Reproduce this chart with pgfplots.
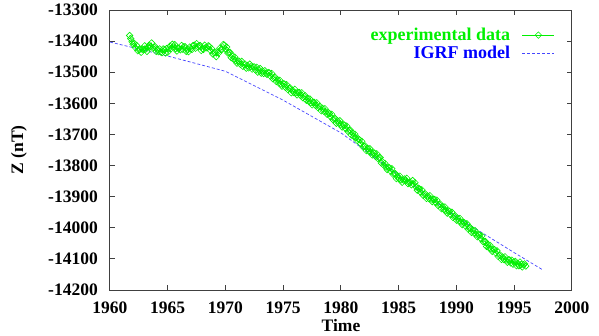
\documentclass[border=0pt]{standalone}
\usepackage{pgfplots}
\pgfplotsset{compat=1.18}
\usepackage{pgfplotstable}
\usepackage{fontspec}
\setmainfont{Liberation Serif}

\definecolor{gpgreen}{RGB}{0,240,0}
\definecolor{gpblue}{RGB}{0,0,255}
\definecolor{igrfblue}{RGB}{70,70,255}

\pgfplotstableread{
t Z
1961.7 -13382
1961.8 -13392
1961.9 -13402
1962.0 -13410
1962.1 -13407
1962.2 -13421
1962.3 -13414
1962.4 -13431
1962.5 -13428
1962.6 -13426
1962.7 -13436
1962.8 -13425
1962.9 -13428
1963.0 -13415
1963.1 -13426
1963.2 -13433
1963.3 -13419
1963.4 -13413
1963.5 -13418
1963.6 -13406
1963.7 -13422
1963.8 -13420
1963.9 -13418
1964.0 -13433
1964.1 -13426
1964.2 -13434
1964.3 -13425
1964.4 -13435
1964.5 -13437
1964.6 -13425
1964.7 -13427
1964.8 -13438
1964.9 -13424
1965.0 -13436
1965.1 -13425
1965.2 -13416
1965.3 -13424
1965.4 -13410
1965.5 -13419
1965.6 -13411
1965.7 -13424
1965.8 -13432
1965.9 -13423
1966.0 -13423
1966.1 -13428
1966.2 -13414
1966.3 -13426
1966.4 -13418
1966.5 -13418
1966.6 -13433
1966.7 -13426
1966.8 -13434
1966.9 -13419
1967.0 -13425
1967.1 -13427
1967.2 -13414
1967.3 -13413
1967.4 -13423
1967.5 -13408
1967.6 -13418
1967.7 -13415
1967.8 -13414
1967.9 -13430
1968.0 -13424
1968.1 -13427
1968.2 -13413
1968.3 -13420
1968.4 -13422
1968.5 -13415
1968.6 -13417
1968.7 -13430
1968.8 -13424
1968.9 -13441
1969.0 -13438
1969.1 -13436
1969.2 -13450
1969.3 -13436
1969.4 -13439
1969.5 -13423
1969.6 -13427
1969.7 -13427
1969.8 -13411
1969.9 -13413
1970.0 -13425
1970.1 -13419
1970.2 -13438
1970.3 -13436
1970.4 -13436
1970.5 -13453
1970.6 -13448
1970.7 -13458
1970.8 -13451
1970.9 -13463
1971.0 -13471
1971.1 -13464
1971.2 -13465
1971.3 -13475
1971.4 -13465
1971.5 -13481
1971.6 -13476
1971.7 -13474
1971.8 -13487
1971.9 -13478
1972.0 -13486
1972.1 -13474
1972.2 -13482
1972.3 -13490
1972.4 -13483
1972.5 -13483
1972.6 -13493
1972.7 -13484
1972.8 -13500
1972.9 -13493
1973.0 -13488
1973.1 -13503
1973.2 -13496
1973.3 -13504
1973.4 -13495
1973.5 -13503
1973.6 -13507
1973.7 -13501
1973.8 -13502
1973.9 -13513
1974.0 -13504
1974.1 -13521
1974.2 -13518
1974.3 -13516
1974.4 -13530
1974.5 -13524
1974.6 -13534
1974.7 -13526
1974.8 -13538
1974.9 -13545
1975.0 -13537
1975.1 -13538
1975.2 -13549
1975.3 -13540
1975.4 -13556
1975.5 -13552
1975.6 -13551
1975.7 -13566
1975.8 -13558
1975.9 -13565
1976.0 -13555
1976.1 -13566
1976.2 -13573
1976.3 -13565
1976.4 -13565
1976.5 -13575
1976.6 -13566
1976.7 -13582
1976.8 -13578
1976.9 -13576
1977.0 -13590
1977.1 -13584
1977.2 -13594
1977.3 -13586
1977.4 -13598
1977.5 -13605
1977.6 -13597
1977.7 -13597
1977.8 -13607
1977.9 -13598
1978.0 -13614
1978.1 -13611
1978.2 -13610
1978.3 -13624
1978.4 -13616
1978.5 -13625
1978.6 -13617
1978.7 -13628
1978.8 -13635
1978.9 -13630
1979.0 -13633
1979.1 -13643
1979.2 -13635
1979.3 -13652
1979.4 -13650
1979.5 -13649
1979.6 -13664
1979.7 -13656
1979.8 -13664
1979.9 -13656
1980.0 -13668
1980.1 -13676
1980.2 -13669
1980.3 -13670
1980.4 -13681
1980.5 -13673
1980.6 -13690
1980.7 -13687
1980.8 -13686
1980.9 -13702
1981.0 -13696
1981.1 -13706
1981.2 -13699
1981.3 -13711
1981.4 -13719
1981.5 -13714
1981.6 -13717
1981.7 -13729
1981.8 -13722
1981.9 -13740
1982.0 -13738
1982.1 -13737
1982.2 -13752
1982.3 -13745
1982.4 -13754
1982.5 -13746
1982.6 -13758
1982.7 -13766
1982.8 -13759
1982.9 -13760
1983.0 -13771
1983.1 -13762
1983.2 -13778
1983.3 -13775
1983.4 -13774
1983.5 -13792
1983.6 -13788
1983.7 -13799
1983.8 -13793
1983.9 -13805
1984.0 -13813
1984.1 -13806
1984.2 -13807
1984.3 -13818
1984.4 -13810
1984.5 -13828
1984.6 -13826
1984.7 -13826
1984.8 -13842
1984.9 -13834
1985.0 -13842
1985.1 -13834
1985.2 -13846
1985.3 -13854
1985.4 -13847
1985.5 -13843
1985.6 -13849
1985.7 -13841
1985.8 -13858
1985.9 -13855
1986.0 -13854
1986.1 -13862
1986.2 -13848
1986.3 -13860
1986.4 -13855
1986.5 -13869
1986.6 -13879
1986.7 -13873
1986.8 -13875
1986.9 -13886
1987.0 -13878
1987.1 -13895
1987.2 -13892
1987.3 -13891
1987.4 -13906
1987.5 -13898
1987.6 -13906
1987.7 -13897
1987.8 -13908
1987.9 -13916
1988.0 -13909
1988.1 -13909
1988.2 -13919
1988.3 -13911
1988.4 -13928
1988.5 -13925
1988.6 -13924
1988.7 -13939
1988.8 -13932
1988.9 -13941
1989.0 -13933
1989.1 -13945
1989.2 -13953
1989.3 -13946
1989.4 -13947
1989.5 -13958
1989.6 -13950
1989.7 -13967
1989.8 -13964
1989.9 -13962
1990.0 -13976
1990.1 -13969
1990.2 -13978
1990.3 -13970
1990.4 -13982
1990.5 -13990
1990.6 -13983
1990.7 -13984
1990.8 -13995
1990.9 -13987
1991.0 -14004
1991.1 -14001
1991.2 -14000
1991.3 -14015
1991.4 -14008
1991.5 -14017
1991.6 -14009
1991.7 -14021
1991.8 -14029
1991.9 -14022
1992.0 -14023
1992.1 -14034
1992.2 -14026
1992.3 -14045
1992.4 -14044
1992.5 -14044
1992.6 -14060
1992.7 -14054
1992.8 -14064
1992.9 -14056
1993.0 -14068
1993.1 -14076
1993.2 -14069
1993.3 -14070
1993.4 -14081
1993.5 -14074
1993.6 -14092
1993.7 -14089
1993.8 -14088
1993.9 -14102
1994.0 -14094
1994.1 -14102
1994.2 -14093
1994.3 -14104
1994.4 -14111
1994.5 -14103
1994.6 -14103
1994.7 -14113
1994.8 -14104
1994.9 -14117
1995.0 -14110
1995.1 -14108
1995.2 -14122
1995.3 -14114
1995.4 -14122
1995.5 -14110
1995.6 -14118
1995.7 -14126
1995.8 -14119
1995.9 -14116
1996.0 -14123
}\expdata

% IGRF model
\pgfplotstableread{
t Z
1960.0 -13403
1965.0 -13448
1970.0 -13497
1975.0 -13590
1980.0 -13695
1985.0 -13830
1990.0 -13965
1995.0 -14080
1997.5 -14136
}\igrf

\begin{document}
\begin{tikzpicture}
\begin{axis}[
    scale only axis,
    width=462bp, height=280bp,
    xmin=1960, xmax=2000,
    ymin=-14200, ymax=-13300,
    scaled x ticks=false, scaled y ticks=false,
    xtick={1960,1965,...,2000},
    xticklabels={1960,1965,1970,1975,1980,1985,1990,1995,2000},
    ytick={-14200,-14100,...,-13300},
    yticklabels={-14200,-14100,-14000,-13900,-13800,-13700,-13600,-13500,-13400,-13300},
    tick align=inside,
    tick pos=both,
    major tick length=5bp,
    axis line style={black!75, line width=1bp},
    every tick/.style={black!75, line width=1bp},
    tick label style={font=\fontsize{17.5bp}{19bp}\selectfont\bfseries, inner sep=0pt},
    yticklabel style={xshift=-12bp},
    xticklabel style={yshift=-12bp},
    xlabel={Time},
    ylabel={Z (nT)},
    label style={font=\fontsize{17.5bp}{19bp}\selectfont\bfseries},
    xlabel style={at={(axis description cs:0.5,-0.1286)}, anchor=center},
    ylabel style={at={(axis description cs:-0.197,0.5)}, anchor=center},
    legend plot pos=right,
    legend cell align=right,
    legend style={at={(axis description cs:0.963,0.943)}, anchor=north east,
        draw=none, fill=none, inner sep=0pt, row sep=0bp, column sep=10bp,
        font=\fontsize{18bp}{18bp}\selectfont\bfseries},
    legend image code/.code={\draw[mark repeat=2,mark phase=2,#1]
        plot coordinates {(0bp,0bp) (16bp,0bp) (32bp,0bp)};},
]
\addplot[gpgreen, line width=0.5bp, mark=square,
    mark size=2.3bp, mark options={rotate=45, line width=0.6bp}]
    table[x=t, y=Z] {\expdata};
\addlegendentry{\textcolor{gpgreen}{experimental data}}
\addplot[igrfblue, line width=0.7bp, dash pattern=on 3bp off 2bp]
    table[x=t, y=Z] {\igrf};
\addlegendentry{\textcolor{gpblue}{IGRF model}}
\end{axis}
\pgfresetboundingbox
\path[use as bounding box] (-110bp,-46bp) rectangle (489bp,290bp);
\end{tikzpicture}
\end{document}
